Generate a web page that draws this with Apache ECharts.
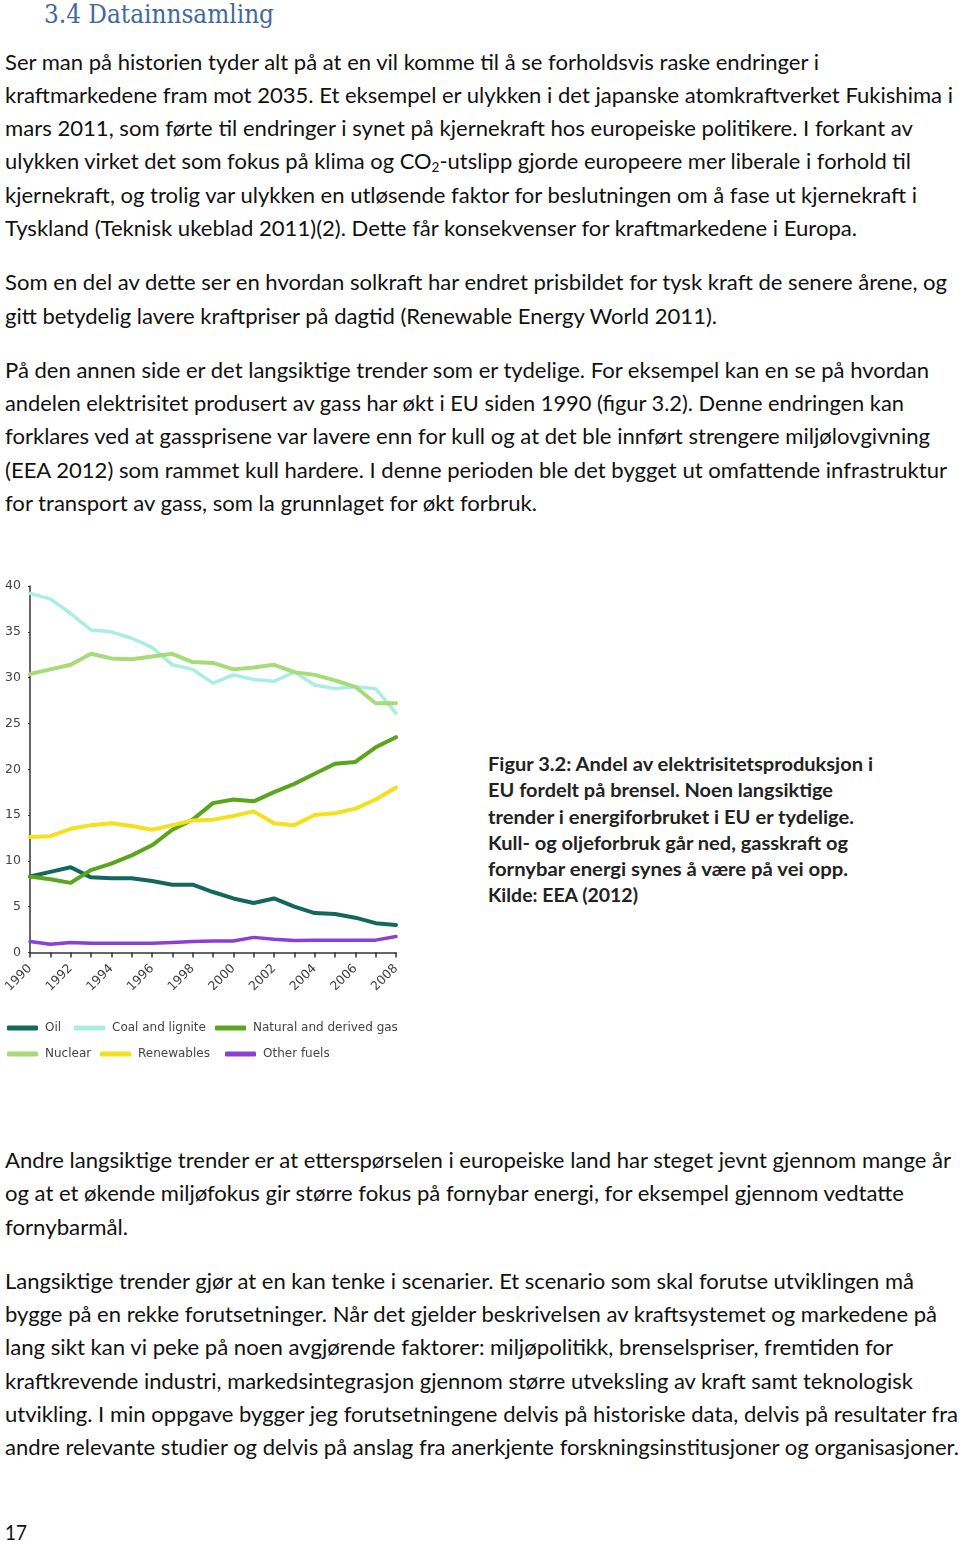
<!DOCTYPE html>
<html>
<head>
<meta charset="utf-8">
<script src="https://cdn.jsdelivr.net/npm/echarts@6/dist/echarts.min.js"></script>
<style>
  html, body { margin: 0; padding: 0; background: #fff; }
  body { width: 960px; height: 1541px; position: relative; overflow: hidden; }
  .ln { position: absolute; white-space: nowrap; font-family: Lato, "Noto Sans", sans-serif; font-size: 21px; line-height: 33px; color: #111; transform-origin: 0 50%; }
  .cap { font-weight: bold; font-size: 19px; line-height: 26px; color: #222; }
  .hd { font-family: "DejaVu Serif", "Liberation Serif", serif; font-size: 26px; line-height: 30px; color: #41689c; }
  .pg { line-height: 22px; }
  .sub { font-size: 0.62em; vertical-align: -0.22em; line-height: 0; }
  #chart { position: absolute; left: 0; top: 570px; width: 420px; height: 500px; }
</style>
</head>
<body>
<div id="chart"></div>
<script>
// ---- Chart data ----
const years = ['1990','1991','1992','1993','1994','1995','1996','1997','1998','1999','2000','2001','2002','2003','2004','2005','2006','2007','2008'];
const oil = [8.3, 8.8, 9.3, 8.2, 8.1, 8.1, 7.8, 7.4, 7.4, 6.6, 5.9, 5.4, 5.9, 5.0, 4.3, 4.2, 3.8, 3.2, 3.0];
const coal = [39.2, 38.6, 37.0, 35.2, 35.0, 34.3, 33.3, 31.4, 30.9, 29.4, 30.3, 29.8, 29.6, 30.6, 29.2, 28.8, 29.0, 28.8, 26.1];
const gas = [8.3, 8.0, 7.6, 9.0, 9.7, 10.6, 11.7, 13.4, 14.5, 16.3, 16.7, 16.5, 17.5, 18.4, 19.5, 20.6, 20.8, 22.4, 23.5];
const nuclear = [30.4, 30.9, 31.4, 32.6, 32.1, 32.0, 32.3, 32.6, 31.7, 31.6, 30.9, 31.1, 31.4, 30.6, 30.3, 29.7, 29.0, 27.2, 27.2];
const renewables = [12.6, 12.7, 13.5, 13.9, 14.1, 13.8, 13.4, 13.9, 14.4, 14.5, 14.9, 15.4, 14.1, 13.9, 15.0, 15.2, 15.7, 16.7, 18.0];
const otherFuels = [1.2, 0.9, 1.1, 1.0, 1.0, 1.0, 1.0, 1.1, 1.2, 1.25, 1.25, 1.65, 1.45, 1.3, 1.35, 1.35, 1.35, 1.35, 1.75];
const seriesNames = ['Oil', 'Coal and lignite', 'Natural and derived gas', 'Nuclear', 'Renewables', 'Other fuels'];
const yTicks = { min: 0, max: 40, interval: 5 };

// ---- Page text ----
const heading = '3.4 Datainnsamling';
const bodyLines = [
  ['Ser man på historien tyder alt på at en vil komme til å se forholdsvis raske endringer i', 61, 814],
  ['kraftmarkedene fram mot 2035. Et eksempel er ulykken i det japanske atomkraftverket Fukishima i', 94, 948],
  ['mars 2011, som førte til endringer i synet på kjernekraft hos europeiske politikere. I forkant av', 127, 908],
  ['ulykken virket det som fokus på klima og CO<span class="sub">2</span>-utslipp gjorde europeere mer liberale i forhold til', 160, 906],
  ['kjernekraft, og trolig var ulykken en utløsende faktor for beslutningen om å fase ut kjernekraft i', 194, 912],
  ['Tyskland (Teknisk ukeblad 2011)(2). Dette får konsekvenser for kraftmarkedene i Europa.', 227, 852],
  ['Som en del av dette ser en hvordan solkraft har endret prisbildet for tysk kraft de senere årene, og', 281, 942],
  ['gitt betydelig lavere kraftpriser på dagtid (Renewable Energy World 2011).', 315, 712],
  ['På den annen side er det langsiktige trender som er tydelige. For eksempel kan en se på hvordan', 369, 924],
  ['andelen elektrisitet produsert av gass har økt i EU siden 1990 (figur 3.2). Denne endringen kan', 402, 899],
  ['forklares ved at gassprisene var lavere enn for kull og at det ble innført strengere miljølovgivning', 435, 925],
  ['(EEA 2012) som rammet kull hardere. I denne perioden ble det bygget ut omfattende infrastruktur', 469, 942],
  ['for transport av gass, som la grunnlaget for økt forbruk.', 502, 532],
  ['Andre langsiktige trender er at etterspørselen i europeiske land har steget jevnt gjennom mange år', 1159, 946],
  ['og at et økende miljøfokus gir større fokus på fornybar energi, for eksempel gjennom vedtatte', 1192, 899],
  ['fornybarmål.', 1226, 123],
  ['Langsiktige trender gjør at en kan tenke i scenarier. Et scenario som skal forutse utviklingen må', 1280, 909],
  ['bygge på en rekke forutsetninger. Når det gjelder beskrivelsen av kraftsystemet og markedene på', 1313, 932],
  ['lang sikt kan vi peke på noen avgjørende faktorer: miljøpolitikk, brenselspriser, fremtiden for', 1346, 888],
  ['kraftkrevende industri, markedsintegrasjon gjennom større utveksling av kraft samt teknologisk', 1380, 908],
  ['utvikling. I min oppgave bygger jeg forutsetningene delvis på historiske data, delvis på resultater fra', 1413, 953],
  ['andre relevante studier og delvis på anslag fra anerkjente forskningsinstitusjoner og organisasjoner.', 1446, 954]
];
const captionLines = [
  ['Figur 3.2: Andel av elektrisitetsproduksjon i', 764, 385],
  ['EU fordelt på brensel. Noen langsiktige', 790, 345],
  ['trender i energiforbruket i EU er tydelige.', 817, 366],
  ['Kull- og oljeforbruk går ned, gasskraft og', 843, 360],
  ['fornybar energi synes å være på vei opp.', 869, 360],
  ['Kilde: EEA (2012)', 895, 150]
];
const pageNumber = '17';

function addLine(html, cls, left, centerY, lh, w) {
  const el = document.createElement('span');
  el.className = 'ln ' + cls;
  el.innerHTML = html;
  el.style.left = left + 'px';
  el.style.top = (centerY - lh / 2) + 'px';
  if (w) el.dataset.w = w;
  document.body.appendChild(el);
}
addLine(heading, 'hd', 44, 14, 30, 230);
bodyLines.forEach(l => addLine(l[0], '', 5, l[1], 33, l[2]));
captionLines.forEach(l => addLine(l[0], 'cap', 488, l[1], 26, l[2]));
addLine(pageNumber, 'pg', 5, 1532, 22, 22);

function fit() {
  document.querySelectorAll('.ln').forEach(el => {
    el.style.transform = 'none';
    const nat = el.getBoundingClientRect().width;
    const w = +el.dataset.w;
    if (w && nat) el.style.transform = 'scaleX(' + (w / nat) + ')';
  });
}
fit();
if (document.fonts && document.fonts.ready) document.fonts.ready.then(fit);

// ---- Chart ----
const colors = ['#13675d', '#a9efdf', '#5aa51c', '#a6dc78', '#f5e01e', '#8c3fd6'];
const values = [oil, coal, gas, nuclear, renewables, otherFuels];
const widths = [4, 3.5, 4, 4, 4, 3.5];

const chart = echarts.init(document.getElementById('chart'), null, { renderer: 'canvas' });
const legendPos = [[7, 452], [74, 452], [215, 452], [7, 478], [100, 478], [225, 478]];
const legends = seriesNames.map((n, i) => ({
  data: [n],
  left: legendPos[i][0],
  top: legendPos[i][1],
  padding: 0,
  orient: 'horizontal',
  itemWidth: 31,
  itemHeight: 5,
  icon: 'roundRect',
  itemStyle: { color: colors[i] },
  textStyle: { fontFamily: 'DejaVu Sans', fontSize: 12, color: '#444', padding: [0, 0, 0, 2] },
  selectedMode: false
}));

chart.setOption({
  animation: false,
  color: colors,
  legend: legends,
  grid: { left: 30, top: 16, width: 366, height: 366.5, containLabel: false },
  xAxis: {
    type: 'category',
    data: years,
    boundaryGap: false,
    axisLine: { lineStyle: { color: '#333', width: 1.5 } },
    axisTick: { show: true, interval: 0, length: 5, lineStyle: { color: '#333', width: 1.5 } },
    axisLabel: { interval: 1, rotate: 45, fontFamily: 'DejaVu Sans', fontSize: 12.5, color: '#444', margin: 14 },
    splitLine: { show: false }
  },
  yAxis: {
    type: 'value',
    min: yTicks.min, max: yTicks.max, interval: yTicks.interval,
    axisLine: { show: true, lineStyle: { color: '#333', width: 1.5 } },
    axisTick: { show: true, length: 2, lineStyle: { color: '#333' } },
    axisLabel: { fontFamily: 'DejaVu Sans', fontSize: 12.5, color: '#444', margin: 9 },
    splitLine: { show: false }
  },
  series: seriesNames.map((n, i) => ({
    name: n,
    type: 'line',
    data: values[i],
    showSymbol: false,
    symbol: 'none',
    lineStyle: { color: colors[i], width: widths[i], join: 'round', cap: 'round' },
    itemStyle: { color: colors[i] },
    z: [3, 1, 4, 2, 5, 6][i]
  }))
});
</script>
</body>
</html>
